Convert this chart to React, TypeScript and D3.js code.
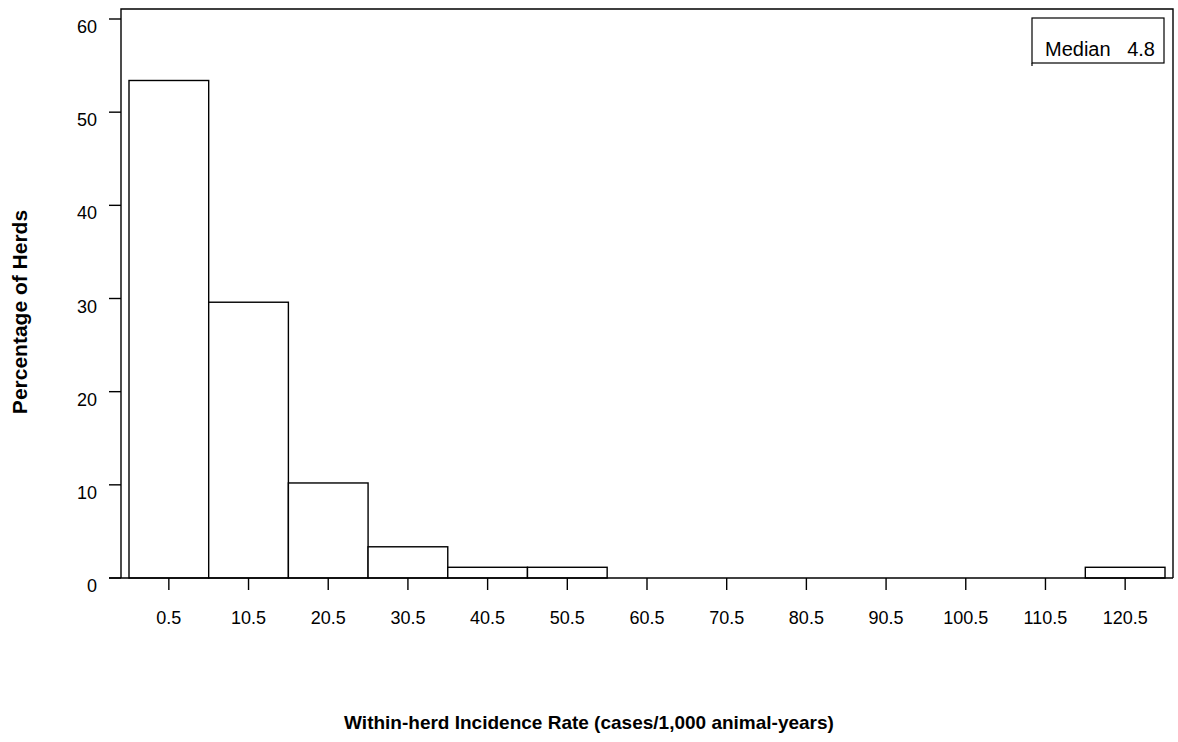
import React, { useEffect, useRef } from 'react';
import * as d3 from 'd3';

const width = 1178;
const height = 742;

// bin midpoints (cases/1,000 animal-years) and percentage of herds
const binMids = [0.5, 10.5, 20.5, 30.5, 40.5, 50.5, 60.5, 70.5, 80.5, 90.5, 100.5, 110.5, 120.5];
const percents = [53.4, 29.6, 10.2, 3.35, 1.15, 1.15, 0, 0, 0, 0, 0, 0, 1.15];
const yTicks = [0, 10, 20, 30, 40, 50, 60];
const binWidth = 10;
const medianName = 'Median';
const medianValue = '4.8';

const frame = { left: 121, top: 9, right: 1173, bottom: 578 };

const App: React.FC = () => {
  const ref = useRef<SVGSVGElement>(null);

  useEffect(() => {
    if (!ref.current) return;
    const svg = d3.select(ref.current);
    svg.selectAll('*').remove();
    const font = 'Arial, "Liberation Sans", Helvetica, sans-serif';

    const x = d3
      .scaleLinear()
      .domain([binMids[0] - binWidth / 2, binMids[binMids.length - 1] + binWidth / 2])
      .range([129, 1165]);
    const y = d3.scaleLinear().domain([0, 60]).range([frame.bottom, 19]);

    // frame (open at the bottom, axis line closes it)
    svg
      .append('path')
      .attr('d', `M${frame.left},${frame.bottom}V${frame.top}H${frame.right}V${frame.bottom}`)
      .attr('fill', 'none')
      .attr('stroke', '#000')
      .attr('stroke-width', 1.4);

    // bars
    svg
      .append('g')
      .selectAll('rect')
      .data(binMids.map((m, i) => ({ m, v: percents[i] })).filter(d => d.v > 0))
      .enter()
      .append('rect')
      .attr('x', d => x(d.m - binWidth / 2))
      .attr('width', d => x(d.m + binWidth / 2) - x(d.m - binWidth / 2))
      .attr('y', d => y(d.v))
      .attr('height', d => y(0) - y(d.v))
      .attr('fill', '#fff')
      .attr('stroke', '#000')
      .attr('stroke-width', 1.4);

    // baseline
    svg
      .append('line')
      .attr('x1', 109)
      .attr('x2', frame.right)
      .attr('y1', y(0))
      .attr('y2', y(0))
      .attr('stroke', '#000')
      .attr('stroke-width', 1.4);

    // y axis
    const yAxis = svg.append('g');
    yTicks.forEach(t => {
      yAxis
        .append('line')
        .attr('x1', 109)
        .attr('x2', frame.left)
        .attr('y1', y(t))
        .attr('y2', y(t))
        .attr('stroke', '#000')
        .attr('stroke-width', 1.4);
      yAxis
        .append('text')
        .attr('x', 97)
        .attr('y', y(t) + 14)
        .attr('text-anchor', 'end')
        .attr('font-family', font)
        .attr('font-size', 18)
        .text(String(t));
    });

    // x axis
    const xAxis = svg.append('g');
    binMids.forEach(m => {
      xAxis
        .append('line')
        .attr('x1', x(m))
        .attr('x2', x(m))
        .attr('y1', y(0))
        .attr('y2', y(0) + 12)
        .attr('stroke', '#000')
        .attr('stroke-width', 1.4);
      xAxis
        .append('text')
        .attr('x', x(m))
        .attr('y', 624)
        .attr('text-anchor', 'middle')
        .attr('font-family', font)
        .attr('font-size', 18)
        .text(String(m));
    });

    // legend box
    svg
      .append('rect')
      .attr('x', 1032)
      .attr('y', 18)
      .attr('width', 132)
      .attr('height', 45)
      .attr('fill', '#fff')
      .attr('stroke', '#000')
      .attr('stroke-width', 1.2);
    svg
      .append('line')
      .attr('x1', 1032)
      .attr('x2', 1032)
      .attr('y1', 63)
      .attr('y2', 66)
      .attr('stroke', '#000')
      .attr('stroke-width', 1.2);
    svg
      .append('text')
      .attr('x', 1045)
      .attr('y', 56)
      .attr('font-family', font)
      .attr('font-size', 20)
      .text(medianName);
    svg
      .append('text')
      .attr('x', 1155)
      .attr('y', 56)
      .attr('text-anchor', 'end')
      .attr('font-family', font)
      .attr('font-size', 20)
      .text(medianValue);

    // axis titles
    svg
      .append('text')
      .attr('x', 589)
      .attr('y', 729)
      .attr('text-anchor', 'middle')
      .attr('font-family', font)
      .attr('font-size', 19)
      .attr('font-weight', 'bold')
      .text('Within-herd Incidence Rate (cases/1,000 animal-years)');
    svg
      .append('text')
      .attr('transform', 'translate(27,312) rotate(-90)')
      .attr('text-anchor', 'middle')
      .attr('font-family', font)
      .attr('font-size', 21)
      .attr('font-weight', 'bold')
      .text('Percentage of Herds');
  }, []);

  return (
    <div style={{ position: 'absolute', left: 0, top: 0, background: '#fff' }}>
      <svg ref={ref} width={width} height={height} style={{ display: 'block' }} />
    </div>
  );
};

export default App;
